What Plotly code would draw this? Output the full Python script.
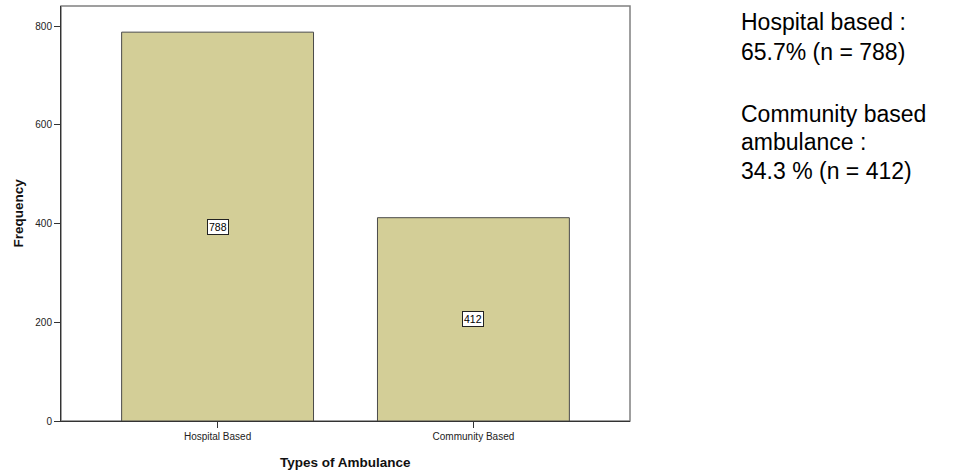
import plotly.graph_objects as go

categories = ["Hospital Based", "Community Based"]
frequencies = [788, 412]
y_ticks = [0, 200, 400, 600, 800]
side_lines_1 = ["Hospital based :", "65.7% (n = 788)"]
side_lines_2 = ["Community based", "ambulance :", "34.3 % (n = 412)"]

W, H = 956, 470
L, R, T, B = 61, 630, 6, 421
FONT = "Arial, Liberation Sans, sans-serif"


def py(ypx):
    return (B - ypx) / (B - T)


def px(xpx):
    return (xpx - L) / (R - L)


fig = go.Figure()
fig.add_trace(go.Bar(
    x=categories, y=frequencies, width=0.75,
    marker=dict(color="#d3ce97", line=dict(color="#4a4a4a", width=1)),
    hoverinfo="skip",
))

ann = []
for c, v in zip(categories, frequencies):
    ann.append(dict(x=c, y=v / 2, xref="x", yref="y", text=str(v), showarrow=False,
                    font=dict(family=FONT, size=10.5, color="#000"),
                    bgcolor="#ffffff", bordercolor="#222", borderwidth=1, borderpad=1))

ann.append(dict(x=0.5, y=py(462), xref="paper", yref="paper", text="<b>Types of Ambulance</b>",
                showarrow=False, font=dict(family=FONT, size=13.5, color="#111"),
                xanchor="center", yanchor="middle"))
ann.append(dict(x=px(18), y=0.5, xref="paper", yref="paper", text="<b>Frequency</b>",
                showarrow=False, textangle=-90, font=dict(family=FONT, size=13.5, color="#111"),
                xanchor="center", yanchor="middle"))

for line, ycen in zip(side_lines_1 + side_lines_2, [21.5, 51.5, 114, 142, 170.5]):
    ann.append(dict(x=px(739), y=py(ycen), xref="paper", yref="paper", text=line,
                    showarrow=False, xanchor="left", yanchor="middle",
                    font=dict(family=FONT, size=23, color="#000")))

fig.update_layout(
    width=W, height=H, autosize=False,
    margin=dict(l=L, r=W - R, t=T, b=H - B, pad=0),
    paper_bgcolor="#ffffff", plot_bgcolor="#ffffff",
    showlegend=False,
    annotations=ann,
    shapes=[dict(type="rect", xref="paper", yref="paper", x0=0, x1=1, y0=0, y1=1,
                 line=dict(color="#808080", width=1.5), layer="below")],
)
fig.update_xaxes(range=[-0.612, 1.612], showgrid=False, zeroline=False,
                 showline=True, linecolor="#333", linewidth=1,
                 ticks="outside", ticklen=6, tickcolor="#333",
                 tickfont=dict(family=FONT, size=10, color="#222"))
fig.update_yaxes(range=[0, 841], tickvals=y_ticks, showgrid=False, zeroline=False,
                 showline=True, linecolor="#333", linewidth=1,
                 ticks="outside", ticklen=6, tickcolor="#333",
                 tickfont=dict(family=FONT, size=10, color="#222"))

fig.write_html("out.html", config={"displayModeBar": False},
               post_script="document.body.style.margin='0';document.body.style.overflow='hidden';")
